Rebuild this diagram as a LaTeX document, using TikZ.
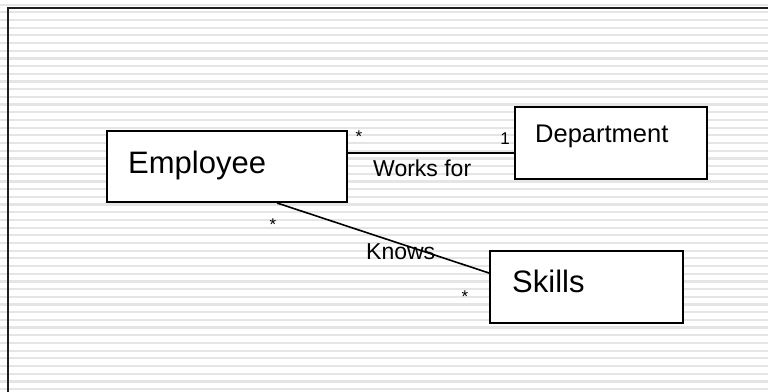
\documentclass[tikz,border=0pt]{standalone}
\usepackage{fontspec}
\setmainfont{Liberation Sans}
\usetikzlibrary{calc}
\definecolor{stripegray}{HTML}{E5E5E5}
\definecolor{framegray}{HTML}{1E1E1E}
\tikzset{
  entity/.style={draw=black, line width=2pt, fill=white, rectangle, inner sep=0pt, anchor=north west},
  assoc/.style={draw=black, line width=1.6pt},
  bigtext/.style={anchor=base west, inner sep=0pt, font=\fontsize{31}{36}\selectfont},
  midtext/.style={anchor=base west, inner sep=0pt, font=\fontsize{25.5}{30}\selectfont},
  roletext/.style={anchor=base west, inner sep=0pt, font=\fontsize{23}{28}\selectfont},
  multtext/.style={anchor=base, inner sep=0pt, font=\fontsize{17}{20}\selectfont},
}
\begin{document}
\begin{tikzpicture}[x=1pt, y=-1pt]
  \useasboundingbox (0,0) rectangle (768,391);
  % white page with thin horizontal ruling
  \fill[white] (0,0) rectangle (768,391);
  \foreach \k in {0,...,51} {
    \fill[stripegray] (0,{4.6+7.69*\k-1.1}) rectangle (768,{4.6+7.69*\k+1.1});
  }
  % outer frame, open to the right and bottom
  \draw[framegray, line width=2pt] (8,400) -- (8,8) -- (780,8);

  % classes
  \node[entity, minimum width=240pt, minimum height=71pt] (emp) at (106,130) {};
  \node[entity, minimum width=192pt, minimum height=72pt] (dept) at (514,106) {};
  \node[entity, minimum width=193pt, minimum height=72pt] (skills) at (489,250) {};

  \node[bigtext] (emplabel) at (128,173) {Employee};
  \node[midtext] (deptlabel) at (535,142) {Department};
  \node[bigtext] (skillslabel) at (512,292) {Skills};

  % associations
  \draw[assoc] ($(emp.north east)+(0,23)$) -- ($(dept.north west)+(0,47)$);
  \draw[assoc] ($(emp.south west)+(171,0)$) -- ($(skills.north west)+(0,23)$);

  \node[roletext] (worksfor) at (373,176) {Works for};
  \node[roletext] (knows) at (366,259) {Knows};

  % multiplicities
  \node[multtext] (m1) at (359,142) {*};
  \node[multtext] (m2) at (505,144.5) {1};
  \node[multtext] (m3) at (273,230) {*};
  \node[multtext] (m4) at (465,302) {*};
\end{tikzpicture}
\end{document}
